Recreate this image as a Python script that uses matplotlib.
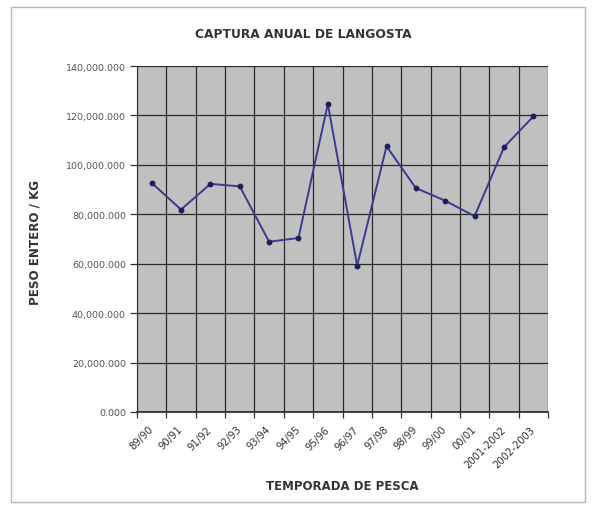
import matplotlib
matplotlib.use("Agg")
import matplotlib.pyplot as plt
import matplotlib.transforms as mtransforms
from matplotlib.patches import Rectangle
from matplotlib.ticker import FuncFormatter, FixedLocator, NullFormatter
import numpy as np

plt.rcParams['font.family'] = ['DejaVu Sans']

temporadas = ["89/90", "90/91", "91/92", "92/93", "93/94", "94/95", "95/96",
              "96/97", "97/98", "98/99", "99/00", "00/01", "2001-2002", "2002-2003"]
captura = [92700, 81900, 92300, 91300, 68900, 70400, 124600,
           59200, 107500, 90600, 85500, 79200, 107100, 119600]
y_ticks = [0, 20000, 40000, 60000, 80000, 100000, 120000, 140000]

fig = plt.figure(figsize=(5.96, 5.10), dpi=100)

# outer chart frame
fig.patches.append(Rectangle((11 / 596, 1 - 503 / 510), (585 - 11) / 596, (503 - 8) / 510,
                             transform=fig.transFigure, fill=False,
                             edgecolor="#b8b8b8", linewidth=1.0))

ax = fig.add_axes([137 / 596, 1 - 413 / 510, (548 - 137) / 596, (413 - 67) / 510])
ax.set_facecolor("#c0c0c0")

x = np.arange(len(temporadas))
ax.plot(x, captura, color="#3a3a90", linewidth=1.4, marker="o",
        markersize=3.2, markerfacecolor="#1e1e5a", markeredgecolor="#1e1e5a", zorder=3)

ax.set_xlim(-0.5, len(temporadas) - 0.5)
ax.set_ylim(0, 140000)

# category boundaries carry the grid and tick marks
bounds = np.arange(len(temporadas) + 1) - 0.5
ax.xaxis.set_major_locator(FixedLocator(bounds))
ax.xaxis.set_major_formatter(NullFormatter())
ax.xaxis.set_minor_locator(FixedLocator(x))
labels = ax.set_xticklabels(temporadas, minor=True, rotation=45, ha="right", va="center",
                            rotation_mode="anchor", fontsize=7.2, color="#333333")
shift = mtransforms.ScaledTranslation(-14 / 100, 0, fig.dpi_scale_trans)
for lab in labels:
    lab.set_transform(lab.get_transform() + shift)
ax.tick_params(axis="x", which="minor", length=0, pad=11)
ax.tick_params(axis="x", which="major", length=4, width=0.9, color="#303030")

ax.set_yticks(y_ticks)
ax.yaxis.set_major_formatter(FuncFormatter(lambda v, p: f"{v:,.3f}"))
ax.tick_params(axis="y", length=5, width=0.9, color="#303030",
               labelsize=6.8, labelcolor="#555555", pad=3)

ax.grid(True, which="major", color="#2a2a2a", linewidth=0.9)
ax.set_axisbelow(True)

for side in ["top", "right"]:
    ax.spines[side].set_visible(False)
ax.spines["left"].set_color("#303030")
ax.spines["bottom"].set_color("#303030")
ax.spines["bottom"].set_linewidth(1.3)

fig.text(303 / 596, 1 - 34 / 510, "CAPTURA ANUAL DE LANGOSTA", ha="center", va="center",
         fontsize=8.8, fontweight="bold", color="#333333")
fig.text(342 / 596, 1 - 487 / 510, "TEMPORADA DE PESCA", ha="center", va="center",
         fontsize=8.5, fontweight="bold", color="#333333")
fig.text(35 / 596, 1 - 243 / 510, "PESO ENTERO / KG", ha="center", va="center",
         rotation=90, fontsize=8.6, fontweight="bold", color="#333333")

fig.savefig("out.png", dpi=100)
